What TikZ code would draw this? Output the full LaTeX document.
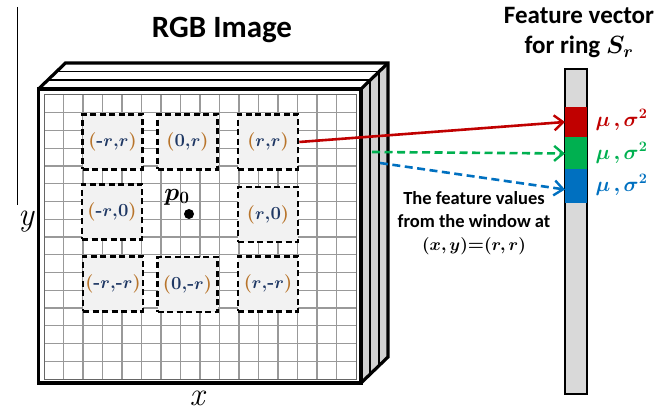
\documentclass[tikz,border=0pt]{standalone}
\usepackage{fontspec}
\setsansfont{Carlito}
\usepackage{amsmath}
\usepackage{bm}
\usetikzlibrary{arrows.meta}
\definecolor{parcol}{HTML}{B8742A}
\definecolor{navy}{HTML}{1F3864}
\definecolor{vred}{HTML}{C00000}
\definecolor{vgreen}{HTML}{00B050}
\definecolor{vblue}{HTML}{0070C0}
\definecolor{sidegray}{HTML}{D0D0D0}
\definecolor{bargray}{HTML}{D9D9D9}
\definecolor{winfill}{HTML}{F2F2F2}
\newcommand{\wpos}[2]{{\color{parcol}(}{\color{navy}#1,#2}{\color{parcol})}}
\newcommand{\rr}{$\bm{r}$}
\begin{document}
\begin{tikzpicture}[x=1pt,y=-1pt,
  edge/.style={line width=3.2pt,line join=miter},
  winbox/.style={draw,line width=2.6pt,dash pattern=on 6pt off 3.5pt,fill=winfill,
    minimum width=60pt,minimum height=55pt,inner sep=0pt,
    font=\fontsize{18.5}{20}\selectfont\bfseries},
  link/.style={line width=2.6pt,-{Straight Barb[length=9pt,width=15pt,line width=2.4pt]}},
  dlink/.style={link,dash pattern=on 8pt off 4.5pt},
  seg/.style={minimum width=22pt,inner sep=0pt,outer sep=0pt},
  mulab/.style={font=\fontsize{21}{22}\selectfont},
  axlab/.style={font=\fontsize{33}{36}\selectfont\itshape}]
\useasboundingbox (0,0) rectangle (661,411);

% vertical axis stroke
\draw[line width=1pt] (17,7) -- (17,205);

% slab stack: right and top faces
\fill[sidegray] (361,89) -- (388,63) -- (388,357) -- (361,383) -- cycle;
\fill[white] (38.5,89) -- (65.5,63) -- (388,63) -- (361,89) -- cycle;
\foreach \k in {1,2}{
  \draw[line width=1.6pt] (38.5+9*\k,89-8.7*\k) -- (361+9*\k,89-8.7*\k) -- (361+9*\k,383-8.7*\k);
}
\draw[edge] (38.5,89) -- (65.5,63) -- (388,63) -- (388,357) -- (361,383);
\draw[edge] (361,89) -- (388,63);

% front face with pixel grid
\draw[edge,fill=white] (38.5,89) rectangle (361,383);
\foreach \i in {1,...,15}{
  \draw[black!40,line width=1.4pt] (44+19.5*\i,95) -- (44+19.5*\i,379);
  \draw[black!40,line width=1.4pt] (44,95+17.75*\i) -- (356,95+17.75*\i);
}
\draw[black!60,line width=1pt] (44,95) rectangle (356,379);

% sampling windows
\node[winbox] (wmp) at (112.5,142) {\wpos{-\rr}{\rr}};
\node[winbox] (wzp) at (187.5,142) {\wpos{0}{\rr}};
\node[winbox] (wpp) at (268,142) {\wpos{\rr}{\rr}};
\node[winbox] (wmz) at (112,212) {\wpos{-\rr}{0}};
\node[winbox] (wpz) at (268,214.5) {\wpos{\rr}{0}};
\node[winbox] (wmm) at (113,284) {\wpos{-\rr}{-\rr}};
\node[winbox] (wzm) at (187.5,284.5) {\wpos{0}{-\rr}};
\node[winbox] (wpm) at (268,284) {\wpos{\rr}{-\rr}};

% centre pixel
\node[circle,fill,minimum size=10pt,inner sep=0pt] (dot) at (189,214) {};
\node[font=\fontsize{24}{26}\selectfont] (pzero) at (177,197) {$\bm{p_0}$};

% axis labels
\node[axlab] (ylab) at (26,222) {y};
\node[axlab] (xlab) at (197,398) {x};

% titles
\node[font=\sffamily\bfseries\fontsize{31}{34}\selectfont] (title) at (222,30) {RGB Image};
\node[font=\sffamily\bfseries\fontsize{25}{30}\selectfont,align=center] (ftitle) at (579,33)
  {Feature vector\\ for ring $\bm{S_r}$};

% feature vector bar
\node[draw,line width=2.6pt,fill=bargray,minimum width=22pt,minimum height=325pt,inner sep=0pt]
  (bar) at (576,231.5) {};
\node[seg,fill=vred,minimum height=31pt] (sr) at (576,122.5) {};
\node[seg,fill=vgreen,minimum height=32pt] (sg) at (576,153.5) {};
\node[seg,fill=vblue,minimum height=34pt] (sb) at (576,186.5) {};
\node[mulab,text=vred,anchor=west] (mr) at (592,120) {$\bm{\mu\,,\sigma^2}$};
\node[mulab,text=vgreen,anchor=west] (mg) at (592,153) {$\bm{\mu\,,\sigma^2}$};
\node[mulab,text=vblue,anchor=west] (mb) at (592,185) {$\bm{\mu\,,\sigma^2}$};

% links from the window to the vector entries
\coordinate (gstart) at (372,152);
\coordinate (bstart) at (380,163);
\draw[link,vred] (wpp.east) -- ([yshift=0.5pt]sr.west);
\draw[dlink,vgreen] (gstart) -- (sg.west);
\draw[dlink,vblue] (bstart) -- ([yshift=-3pt]sb.west);

% caption
\node[font=\sffamily\bfseries\fontsize{18.5}{23}\selectfont,align=center] (cap) at (474,223)
  {The feature values\\ from the window at\\ \rmfamily$\bm{(x,y)}$=$\bm{(r,r)}$};
\end{tikzpicture}
\end{document}
